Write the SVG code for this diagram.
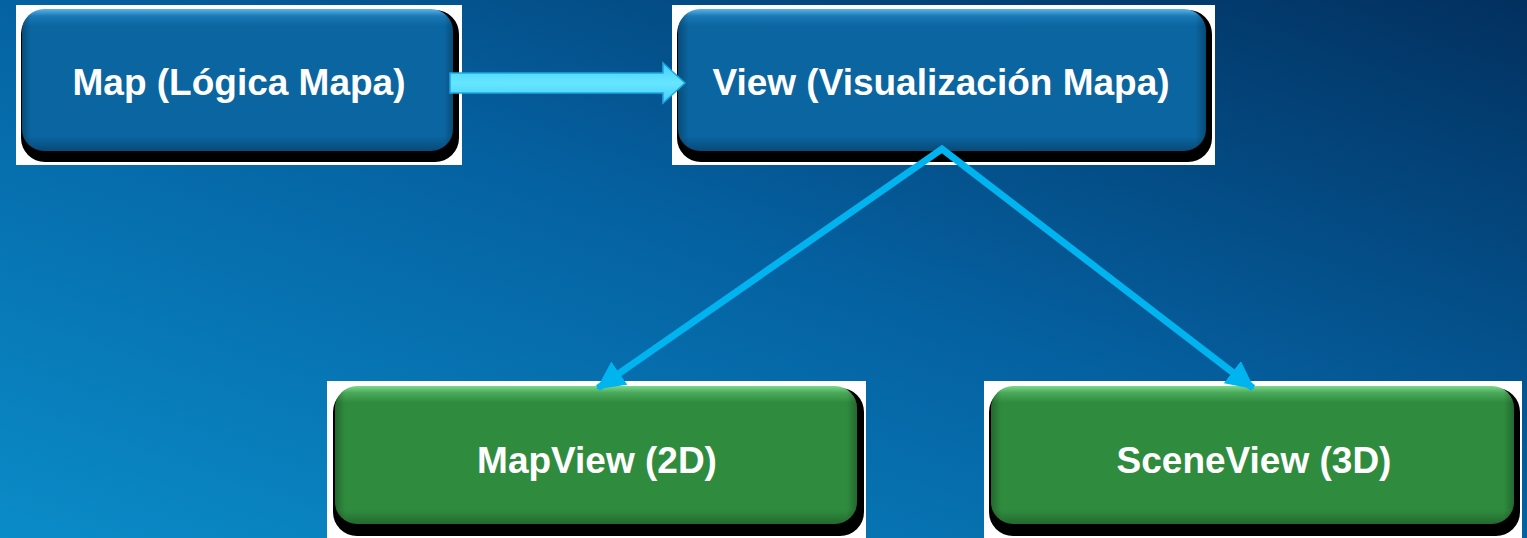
<svg xmlns="http://www.w3.org/2000/svg" width="1527" height="538" viewBox="0 0 1527 538">
<defs>
<linearGradient id="bg" x1="0" y1="1" x2="1" y2="0">
<stop offset="0" stop-color="#0a8cc8"/>
<stop offset="0.5" stop-color="#0562a2"/>
<stop offset="1" stop-color="#02305f"/>
</linearGradient>
<linearGradient id="blueFill" x1="0" y1="0" x2="0" y2="1">
<stop offset="0" stop-color="#5ab4ea"/>
<stop offset="0.05" stop-color="#1a78b4"/>
<stop offset="0.12" stop-color="#0a65a0"/>
<stop offset="0.9" stop-color="#0a65a0"/>
<stop offset="1" stop-color="#074a78"/>
</linearGradient>
<linearGradient id="greenFill" x1="0" y1="0" x2="0" y2="1">
<stop offset="0" stop-color="#7cd88a"/>
<stop offset="0.05" stop-color="#4aa85a"/>
<stop offset="0.12" stop-color="#2f8c3e"/>
<stop offset="0.9" stop-color="#2f8c3e"/>
<stop offset="1" stop-color="#236a2e"/>
</linearGradient>
<linearGradient id="sideShade" x1="0" y1="0" x2="1" y2="0">
<stop offset="0" stop-color="#000" stop-opacity="0.25"/>
<stop offset="0.02" stop-color="#000" stop-opacity="0"/>
<stop offset="0.98" stop-color="#000" stop-opacity="0"/>
<stop offset="1" stop-color="#000" stop-opacity="0.25"/>
</linearGradient>
<linearGradient id="arrowFill" x1="0" y1="0" x2="0" y2="1">
<stop offset="0" stop-color="#45cdf8"/>
<stop offset="0.5" stop-color="#66e6ff"/>
<stop offset="1" stop-color="#45cdf8"/>
</linearGradient>
<marker id="head" viewBox="0 0 28 28" refX="26" refY="14" markerWidth="28" markerHeight="28" markerUnits="userSpaceOnUse" orient="auto-start-reverse">
<path d="M0,0 L28,14 L0,28 z" fill="#00b4f0"/>
</marker>
<style>
.frame{fill:#ffffff}
.shadow{fill:#000000}
.blue{fill:url(#blueFill)}
.green{fill:url(#greenFill)}
.shade{fill:url(#sideShade)}
.label{font-family:"Liberation Sans",Arial,sans-serif;font-weight:bold;font-size:37px;fill:#ffffff;text-anchor:middle}
.conn{fill:none;stroke:#00b4f0;stroke-width:7;stroke-linejoin:miter}
</style>
</defs>
<rect x="0" y="0" width="1527" height="538" fill="url(#bg)"/>

<g id="node-map">
<rect class="frame" x="16" y="5" width="446" height="160"/>
<rect class="shadow" x="21" y="10" width="438" height="152" rx="24"/>
<rect class="blue" x="22" y="9" width="431" height="142" rx="22"/>
<rect class="shade" x="22" y="9" width="431" height="142" rx="22"/>
<text class="label" x="239" y="95">Map (Lógica Mapa)</text>
</g>

<g id="node-view">
<rect class="frame" x="672" y="5" width="543" height="160"/>
<rect class="shadow" x="677" y="10" width="535" height="152" rx="24"/>
<rect class="blue" x="678" y="9" width="528" height="142" rx="22"/>
<rect class="shade" x="678" y="9" width="528" height="142" rx="22"/>
<text class="label" x="941" y="95">View (Visualización Mapa)</text>
</g>

<g id="node-mapview">
<rect class="frame" x="327" y="381" width="539" height="157"/>
<rect class="shadow" x="333" y="388" width="531" height="148" rx="24"/>
<rect class="green" x="335" y="386" width="522" height="138" rx="22"/>
<rect class="shade" x="335" y="386" width="522" height="138" rx="22"/>
<text class="label" x="597" y="473">MapView (2D)</text>
</g>

<g id="node-sceneview">
<rect class="frame" x="984" y="381" width="538" height="157"/>
<rect class="shadow" x="989" y="388" width="531" height="148" rx="24"/>
<rect class="green" x="991" y="386" width="523" height="138" rx="22"/>
<rect class="shade" x="991" y="386" width="523" height="138" rx="22"/>
<text class="label" x="1254" y="473">SceneView (3D)</text>
</g>

<g id="connectors">
<polygon points="450,73 663,73 663,63 685,83 663,103 663,93 450,93" fill="url(#arrowFill)" stroke="#1aa8e0" stroke-width="1.5"/>
<path class="conn" d="M598,388 L942,149 L1253,388" marker-start="url(#head)" marker-end="url(#head)"/>
</g>
</svg>
